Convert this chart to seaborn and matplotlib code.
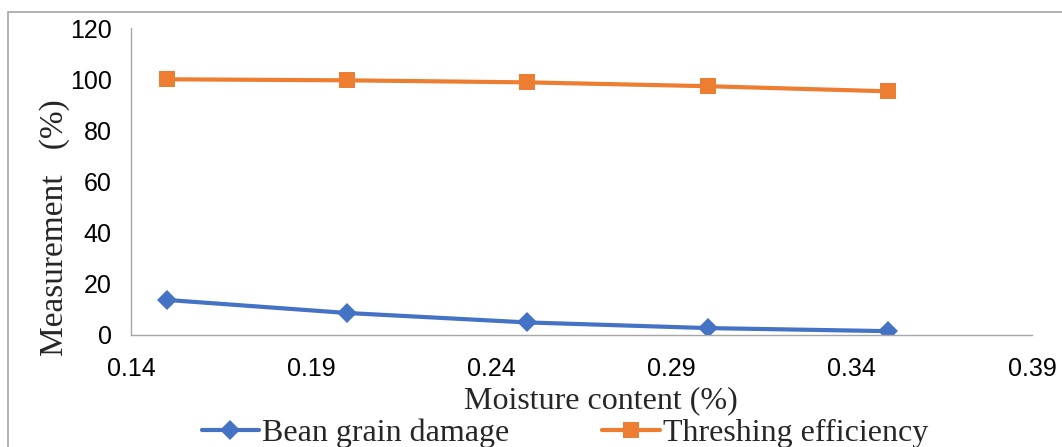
import matplotlib
matplotlib.use("Agg")
import matplotlib.pyplot as plt
import matplotlib.patches as mpatches
import pandas as pd
import seaborn as sns

# ── Data ─────────────────────────────────────────────────────────────────────
moisture = [0.15, 0.20, 0.25, 0.30, 0.35]
grain_damage = [13.7, 8.6, 4.9, 2.7, 1.5]
threshing_eff = [100.0, 99.6, 98.8, 97.3, 95.3]
series_names = ["Bean grain damage", "Threshing efficiency"]
x_ticks = [0.14, 0.19, 0.24, 0.29, 0.34, 0.39]
y_ticks = [0, 20, 40, 60, 80, 100, 120]

BLUE = "#4472C4"
ORANGE = "#ED7D31"
GREY = "#A6A6A6"

df = pd.DataFrame({
    "moisture": moisture * 2,
    "value": grain_damage + threshing_eff,
    "series": [series_names[0]] * len(moisture) + [series_names[1]] * len(moisture),
})

sns.set_theme(style="white")
plt.rcParams["font.family"] = ["Liberation Sans", "DejaVu Sans"]

fig = plt.figure(figsize=(10.62, 4.47), dpi=100)
ax = fig.add_axes([0.1234, 0.2506, 0.8484, 0.6864])

sns.lineplot(
    data=df, x="moisture", y="value", hue="series", style="series",
    palette={series_names[0]: BLUE, series_names[1]: ORANGE},
    markers={series_names[0]: "D", series_names[1]: "s"},
    dashes=False, linewidth=3, markersize=11, markeredgewidth=0,
    ax=ax, legend=False,
)
# diamonds a touch slimmer than squares
for line, ms in zip(ax.get_lines(), [10, 11]):
    line.set_markersize(ms)

ax.set_xlim(0.14, 0.39)
ax.set_ylim(0, 120)
ax.set_xticks(x_ticks)
ax.set_xticklabels([f"{t:.2f}" for t in x_ticks])
ax.set_yticks(y_ticks)
ax.tick_params(axis="both", direction="out", length=6, width=1, color=GREY,
               labelsize=18, pad=8, labelcolor="black")
ax.tick_params(axis="x", pad=10)

for side in ["top", "right"]:
    ax.spines[side].set_visible(False)
for side in ["left", "bottom"]:
    ax.spines[side].set_color(GREY)
    ax.spines[side].set_linewidth(1)

serif = ["Liberation Serif", "DejaVu Serif"]
ax.set_xlabel("Moisture content (%)", family=serif, fontsize=23)
ax.set_ylabel("Measurement   (%)", family=serif, fontsize=24)
ax.xaxis.set_label_coords(0.522, -0.168)
ax.yaxis.set_label_coords(-0.068, 0.35)

handles = [
    plt.Line2D([], [], color=BLUE, marker="D", lw=3, ms=10, mew=0),
    plt.Line2D([], [], color=ORANGE, marker="s", lw=3, ms=11, mew=0),
]
fig.legend(handles, series_names, loc="center", bbox_to_anchor=(0.532, 0.03),
           ncol=2, frameon=False, prop={"family": serif, "size": 23},
           handlelength=1.8, handletextpad=0.1, columnspacing=2.9)

# chart area border (grey frame, as in the source figure)
fig.patches.append(mpatches.Rectangle((8 / 1062, -0.05), 1.1, 1 - 12 / 447 + 0.05,
                                      transform=fig.transFigure, fill=False,
                                      edgecolor=GREY, linewidth=1.2))

fig.savefig("out.png", dpi=100)
plt.close(fig)
